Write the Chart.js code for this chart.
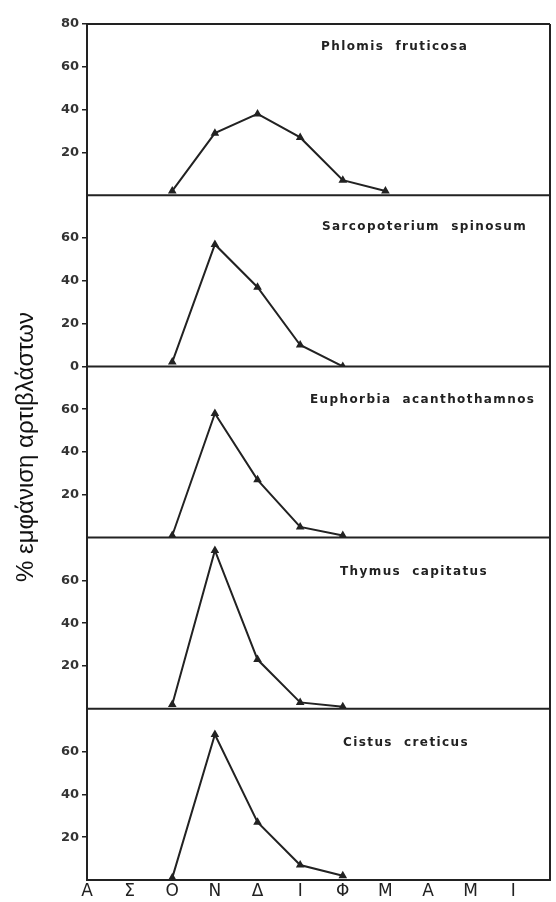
<!DOCTYPE html>
<html>
<head>
<meta charset="utf-8">
<script src="https://cdn.jsdelivr.net/npm/chart.js@4.4.0/dist/chart.umd.min.js"></script>
<style>
  html, body { margin: 0; padding: 0; background: #fff; }
  #wrap { width: 556px; height: 902px; }
</style>
</head>
<body>
<div id="wrap"><canvas id="seedlings" width="556" height="902"></canvas></div>
<script>
// months Aug..Jun
const months = ['Α', 'Σ', 'Ο', 'Ν', 'Δ', 'Ι', 'Φ', 'Μ', 'Α', 'Μ', 'Ι'];
const species = ['Phlomis fruticosa', 'Sarcopoterium spinosum', 'Euphorbia acanthothamnos', 'Thymus capitatus', 'Cistus creticus'];

// % seedling emergence per month, null = nothing recorded
const phlomis   = [null, null, 2, 29, 38, 27, 7, 2, null, null, null];
const sarcopot  = [null, null, 2, 57, 37, 10, 0, null, null, null, null];
const euphorbia = [null, null, 1, 58, 27, 5, 1, null, null, null, null];
const thymus    = [null, null, 2, 74, 23, 3, 1, null, null, null, null];
const cistus    = [null, null, 1, 68, 27, 7, 2, null, null, null, null];

const panelTicks = [[20, 40, 60, 80], [0, 20, 40, 60], [20, 40, 60], [20, 40, 60], [20, 40, 60]];
const yTitle = '% εμφάνιση αρτιβλάστων';

const series = [phlomis, sarcopot, euphorbia, thymus, cistus];
const ink = '#222';

const toPoints = vals => vals.map((v, i) => v === null ? null : { x: i, y: v }).filter(p => p);

const datasets = series.map((vals, k) => ({
  label: species[k],
  data: toPoints(vals),
  yAxisID: 'y' + k,
  borderColor: ink,
  borderWidth: 2,
  pointStyle: 'triangle',
  pointRadius: 3,
  pointBackgroundColor: ink,
  pointBorderColor: ink,
  tension: 0
}));

const scales = {
  x: {
    type: 'linear',
    min: 0,
    max: 10.86,
    afterBuildTicks: s => { s.ticks = months.map((m, i) => ({ value: i })); },
    afterFit: s => { s.height = 22; },
    grid: { display: false, drawTicks: false },
    border: { color: ink, width: 2 },
    ticks: {
      autoSkip: false,
      maxRotation: 0,
      padding: 1,
      color: ink,
      font: { family: 'DejaVu Sans', size: 17 },
      callback: v => months[v]
    }
  }
};

// stacked panels: bottom one first
for (let k = species.length - 1; k >= 0; k--) {
  scales['y' + k] = {
    type: 'linear',
    position: 'left',
    stack: 'panels',
    stackWeight: 1,
    min: 0,
    max: 80,
    afterFit: s => { s.width = 87; },
    afterBuildTicks: s => { s.ticks = panelTicks[k].map(v => ({ value: v })); },
    grid: { drawOnChartArea: false, tickLength: 5, color: ink, lineWidth: 1.5 },
    border: { color: ink, width: 2 },
    ticks: {
      autoSkip: false,
      padding: 3,
      color: '#333',
      font: { family: 'DejaVu Sans', size: 13, weight: 'bold' }
    }
  };
}

// frame lines + species names + rotated y title
const panelDecor = {
  id: 'panelDecor',
  afterDatasetsDraw(chart, args, opts) {
    const ctx = chart.ctx;
    const area = chart.chartArea;
    ctx.save();
    ctx.strokeStyle = ink;
    ctx.lineWidth = 2;
    ctx.beginPath();
    species.forEach((name, k) => {
      const s = chart.scales['y' + k];
      ctx.moveTo(area.left, s.top);
      ctx.lineTo(area.right, s.top);
    });
    ctx.moveTo(area.right, area.top);
    ctx.lineTo(area.right, area.bottom);
    ctx.stroke();

    ctx.fillStyle = ink;
    ctx.font = 'bold 12px "DejaVu Sans"';
    ctx.letterSpacing = '1.4px';
    ctx.textBaseline = 'middle';
    ctx.textAlign = 'left';
    species.forEach((name, k) => {
      const s = chart.scales['y' + k];
      ctx.fillText(name.replace(' ', '  '), area.left + opts.dx[k], s.top + opts.dy[k]);
    });
    ctx.letterSpacing = '0px';

    ctx.font = '24px "Liberation Sans"';
    ctx.fillStyle = '#111';
    ctx.textAlign = 'center';
    ctx.translate(opts.titleX, (area.top + area.bottom) / 2 - 5);
    ctx.rotate(-Math.PI / 2);
    ctx.fillText(yTitle, 0, 0);
    ctx.restore();
  }
};

new Chart(document.getElementById('seedlings'), {
  type: 'line',
  data: { datasets: datasets },
  options: {
    responsive: false,
    animation: false,
    devicePixelRatio: 1,
    layout: { padding: { top: 24, right: 2, left: 0, bottom: 0 } },
    scales: scales,
    plugins: {
      legend: { display: false },
      tooltip: { enabled: false },
      panelDecor: { dx: [234, 235, 223, 253, 256], dy: [23, 32, 33, 34, 34], titleX: 26 }
    }
  },
  plugins: [panelDecor]
});
</script>
</body>
</html>
